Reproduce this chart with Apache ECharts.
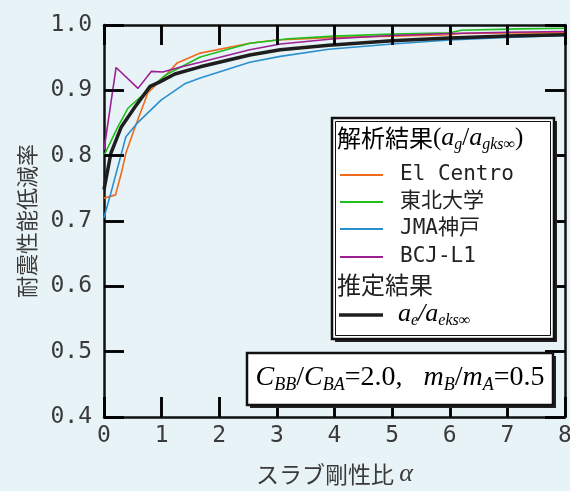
<!DOCTYPE html>
<html>
<head>
<meta charset="utf-8">
<script src="https://cdn.jsdelivr.net/npm/echarts@6/dist/echarts.min.js"></script>
<style>
  html, body { margin: 0; padding: 0; background: #e7f3f6; }
  #chart { width: 570px; height: 491px; }
</style>
</head>
<body>
<div id="chart"></div>
<script>
// 解析結果 (a_g / a_gks∞)
const elCentroA = [0, 0.2, 0.3, 0.38, 0.54, 0.76, 1.06, 1.27, 1.67, 2.53, 3, 4, 5, 6, 6.2, 7, 8];
const elCentroV = [0.735, 0.740, 0.773, 0.804, 0.844, 0.896, 0.922, 0.942, 0.957, 0.972, 0.977, 0.981, 0.983, 0.985, 0.987, 0.988, 0.988];

const tohokuA = [0, 0.24, 0.42, 0.76, 1.06, 1.67, 2.53, 3.2, 4, 5, 6, 6.2, 7.2, 8];
const tohokuV = [0.80, 0.844, 0.873, 0.90, 0.923, 0.951, 0.972, 0.979, 0.983, 0.986, 0.988, 0.992, 0.994, 0.995];

const jmaA = [0, 0.12, 0.38, 0.59, 0.99, 1.4, 1.67, 2.53, 3.06, 3.9, 5, 6, 7, 8];
const jmaV = [0.705, 0.743, 0.829, 0.851, 0.885, 0.910, 0.919, 0.943, 0.952, 0.963, 0.971, 0.977, 0.981, 0.984];

const bcjA = [0, 0.21, 0.59, 0.82, 1.02, 1.3, 1.67, 2.53, 3.06, 4, 5, 6, 7, 8];
const bcjV = [0.809, 0.935, 0.903, 0.929, 0.928, 0.935, 0.943, 0.962, 0.971, 0.979, 0.984, 0.987, 0.989, 0.990];

// 推定結果 (a_e / a_eks∞)
const estA = [0, 0.12, 0.3, 0.54, 0.8, 0.97, 1.23, 1.67, 2.53, 3.06, 3.9, 5, 6, 7, 8];
const estV = [0.748, 0.804, 0.844, 0.875, 0.906, 0.913, 0.925, 0.936, 0.954, 0.962, 0.969, 0.976, 0.980, 0.983, 0.985];

const xTicks = [0, 1, 2, 3, 4, 5, 6, 7, 8];
const yTicks = [0.4, 0.5, 0.6, 0.7, 0.8, 0.9, 1.0];

const xMin = 0, xMax = 8;
const yMin = 0.4, yMax = 1.0;

function pairs(a, v) {
  return a.map((x, i) => [x, v[i]]);
}

const chart = echarts.init(document.getElementById('chart'));

function axLine() {
  return { show: true, onZero: false, lineStyle: { color: '#111', width: 2.5 } };
}
function axTick() {
  return { show: true, inside: true, length: 20, lineStyle: { color: '#000', width: 2.5 } };
}
const labelFont = { fontFamily: 'DejaVu Sans Mono', fontSize: 23, color: '#3a3a3a' };

const serif = 'Liberation Serif';
const cjk = 'Noto Sans CJK JP';

// 内向き目盛をmarkLineでも描く（約20pxぶんをデータ単位で）
const dy = (yMax - yMin) * 20 / 392;
const dx = (xMax - xMin) * 20 / 461;
const tickLines = []
  .concat(xTicks.map(v => [{ coord: [v, yMin] }, { coord: [v, yMin + dy] }]))
  .concat(xTicks.map(v => [{ coord: [v, yMax] }, { coord: [v, yMax - dy] }]))
  .concat(yTicks.map(v => [{ coord: [xMin, v] }, { coord: [xMin + dx, v] }]))
  .concat(yTicks.map(v => [{ coord: [xMax, v] }, { coord: [xMax - dx, v] }]));

let option = {
  backgroundColor: '#e7f3f6',
  animation: false,
  grid: { left: 104, right: 5, top: 25, bottom: 74, outerBoundsMode: 'none' },
  xAxis: [
    {
      type: 'value', min: xMin, max: xMax, interval: 1, position: 'bottom',
      axisLine: axLine(), axisTick: axTick(), splitLine: { show: false },
      axisLabel: Object.assign({ formatter: v => String(v) }, labelFont),
      name: '{t|スラブ剛性比 }{i|α}',
      nameLocation: 'middle', nameGap: 44,
      nameTextStyle: {
        rich: {
          t: { fontFamily: cjk, fontSize: 23, color: '#3a3a3a' },
          i: { fontFamily: serif, fontStyle: 'italic', fontSize: 26, color: '#3a3a3a' }
        }
      }
    },
    {
      type: 'value', min: xMin, max: xMax, interval: 1, position: 'top',
      axisLine: axLine(), axisTick: axTick(), splitLine: { show: false }, axisLabel: { show: false }
    }
  ],
  yAxis: [
    {
      type: 'value', min: yMin, max: yMax, interval: 0.1, position: 'left',
      axisLine: axLine(), axisTick: axTick(), splitLine: { show: false },
      axisLabel: Object.assign({ margin: 12, formatter: v => v.toFixed(1) }, labelFont),
      name: '耐震性能低減率', nameLocation: 'middle', nameRotate: 90, nameGap: 66,
      nameTextStyle: { fontFamily: cjk, fontSize: 22, color: '#3a3a3a' }
    },
    {
      type: 'value', min: yMin, max: yMax, interval: 0.1, position: 'right',
      axisLine: axLine(), axisTick: axTick(), splitLine: { show: false }, axisLabel: { show: false }
    }
  ],
  series: [
    { name: 'El Centro', type: 'line', data: pairs(elCentroA, elCentroV), showSymbol: false, lineStyle: { color: '#f06a1c', width: 1.6 } },
    { name: '東北大学', type: 'line', data: pairs(tohokuA, tohokuV), showSymbol: false, lineStyle: { color: '#1fbf1f', width: 1.6 } },
    { name: 'JMA神戸', type: 'line', data: pairs(jmaA, jmaV), showSymbol: false, lineStyle: { color: '#2a8fcf', width: 1.6 } },
    { name: 'BCJ-L1', type: 'line', data: pairs(bcjA, bcjV), showSymbol: false, lineStyle: { color: '#9c1f94', width: 1.6 } },
    {
      name: '推定結果', type: 'line', data: pairs(estA, estV), showSymbol: false, lineStyle: { color: '#1e1e1e', width: 3.5 },
      markLine: {
        silent: true, symbol: 'none', animation: false,
        label: { show: false },
        lineStyle: { color: '#000', width: 2.5, type: 'solid' },
        emphasis: { disabled: true },
        data: tickLines
      }
    }
  ],
  graphic: []
};

// 凡例ボックス
const legendRows = [
  { label: 'El Centro', color: '#f06a1c', y: 175 },
  { label: '東北大学', color: '#1fbf1f', y: 202 },
  { label: 'JMA神戸', color: '#2a8fcf', y: 229 },
  { label: 'BCJ-L1', color: '#9c1f94', y: 257 }
];

const subRich = {
  c: { fontFamily: cjk, fontSize: 24, color: '#222', lineHeight: 30 },
  p: { fontFamily: serif, fontSize: 25, color: '#333', lineHeight: 30 },
  a: { fontFamily: serif, fontStyle: 'italic', fontSize: 26, color: '#333', lineHeight: 30 },
  s: { fontFamily: serif, fontStyle: 'italic', fontSize: 16, color: '#333', lineHeight: 14, verticalAlign: 'bottom' },
  ag: { fontFamily: serif, fontStyle: 'italic', fontSize: 26, color: '#555', lineHeight: 30 },
  sg: { fontFamily: serif, fontStyle: 'italic', fontSize: 16, color: '#555', lineHeight: 14, verticalAlign: 'bottom' }
};

let g = [
  { type: 'rect', shape: { x: 335, y: 121, width: 222, height: 221 }, style: { fill: '#222' }, z: 100 },
  { type: 'rect', shape: { x: 332, y: 118, width: 222, height: 221 }, style: { fill: '#fff', stroke: '#111', lineWidth: 2.5 }, z: 101 },
  { type: 'rect', shape: { x: 335.5, y: 121.5, width: 215, height: 214 }, style: { fill: 'none', stroke: '#111', lineWidth: 1 }, z: 102 },
  {
    type: 'text', x: 337, y: 138, z: 103,
    style: { text: '{c|解析結果}{p|(}{a|a}{s|g}{p|/}{a|a}{s|gks∞}{p|)}', rich: subRich, verticalAlign: 'middle' }
  },
  {
    type: 'text', x: 337, y: 285, z: 103,
    style: { text: '推定結果', fontFamily: cjk, fontSize: 24, fill: '#222', verticalAlign: 'middle' }
  },
  { type: 'line', shape: { x1: 339, y1: 315, x2: 383, y2: 315 }, style: { stroke: '#1e1e1e', lineWidth: 3.5 }, z: 103 },
  {
    type: 'text', x: 398, y: 314, z: 103,
    style: { text: '{ag|a}{sg|e}{ag|/}{ag|a}{sg|eks∞}', rich: subRich, verticalAlign: 'middle' }
  }
];

legendRows.forEach(r => {
  g.push({ type: 'line', shape: { x1: 340, y1: r.y, x2: 383, y2: r.y }, style: { stroke: r.color, lineWidth: 2 }, z: 103 });
  g.push({
    type: 'text', x: 400, y: r.y, z: 103,
    style: { text: r.label, fontFamily: 'DejaVu Sans Mono, Noto Sans CJK JP', fontSize: 21, fill: '#222', verticalAlign: 'middle' }
  });
});

// 条件ボックス
g.push({ type: 'rect', shape: { x: 250, y: 356, width: 306, height: 52 }, style: { fill: '#222' }, z: 100 });
g.push({ type: 'rect', shape: { x: 247, y: 353, width: 306, height: 52 }, style: { fill: '#fff', stroke: '#111', lineWidth: 2.5 }, z: 101 });
g.push({
  type: 'text', x: 400, y: 378, z: 103,
  style: {
    text: '{a|C}{s|BB}{p|/}{a|C}{s|BA}{p|=2.0,   }{a|m}{s|B}{p|/}{a|m}{s|A}{p|=0.5}',
    align: 'center', verticalAlign: 'middle',
    rich: {
      a: { fontFamily: serif, fontStyle: 'italic', fontSize: 28, color: '#222', lineHeight: 32 },
      p: { fontFamily: serif, fontSize: 28, color: '#222', lineHeight: 32 },
      s: { fontFamily: serif, fontStyle: 'italic', fontSize: 18, color: '#222', lineHeight: 16, verticalAlign: 'bottom' }
    }
  }
});

option.graphic = g;
chart.setOption(option);
</script>
</body>
</html>
